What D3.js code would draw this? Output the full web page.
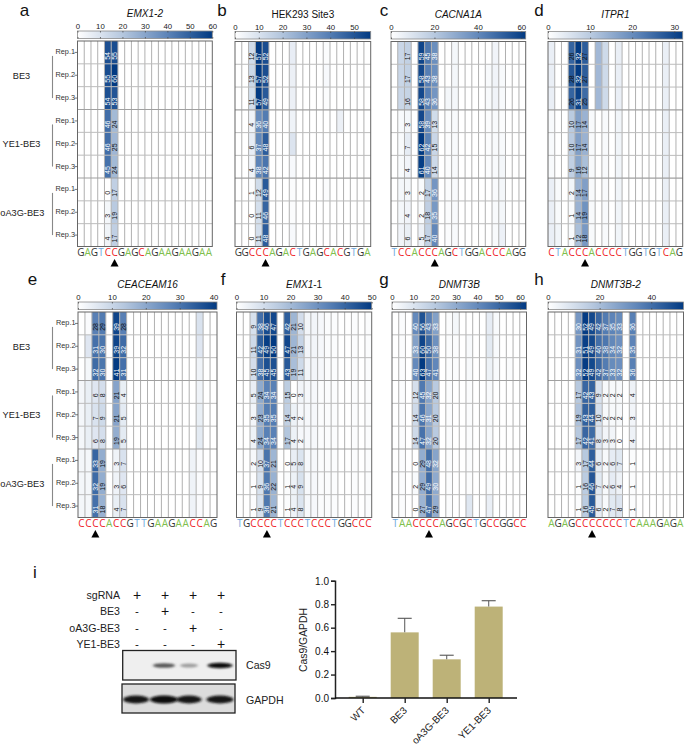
<!DOCTYPE html>
<html><head><meta charset="utf-8">
<script src="https://cdn.jsdelivr.net/npm/d3@7/dist/d3.min.js"></script>
<style>html,body{margin:0;padding:0;background:#fff}svg{display:block}text{font-family:"Liberation Sans",Arial,sans-serif}</style>
</head><body><svg id="c" width="685" height="746"></svg>
<script>
const groupNames = ["BE3","YE1-BE3","oA3G-BE3"];
const repNames = ["Rep.1","Rep.2","Rep.3"];

const seqA = "GAGTCCGAGCAGAAGAAGAA", titleA = "EMX1-2", maxA = 60, ticksA = [0,10,20,30,40,50,60], labelColsA = [4,5];
const valuesA = [
[0,0,0,0,54,55,0,0,0,0,0,0,0,0,0,0,0,0,0,0],
[0,0,0,0,55,60,0,0,0,1,0,0,0,0,0,0,0,0,0,0],
[0,0,0,0,54,53,0,0,0,1,0,0,0,0,0,0,0,0,0,0],
[0,0,0,0,46,24,0,0,0,0,0,0,0,0,0,0,0,0,0,0],
[0,0,0,0,46,25,0,0,0,0,0,0,0,0,0,0,0,0,0,0],
[0,0,0,0,45,24,0,0,0,0,0,0,0,0,0,0,0,0,0,0],
[0,0,0,0,0,17,0,0,0,1,0,0,0,0,0,0,0,0,0,0],
[0,0,0,0,3,19,0,0,0,0,0,0,0,0,0,0,0,0,0,0],
[0,0,0,0,4,17,0,0,0,0,0,0,0,0,0,0,0,0,0,0]];

const seqB = "GGCCCAGACTGAGCACGTGA", titleB = "HEK293 Site3", maxB = 57, ticksB = [0,10,20,30,40,50], labelColsB = [2,3,4];
const valuesB = [
[0,0,12,57,52,0,0,0,6,0,0,0,0,1,0,0,0,0,0,0],
[0,0,13,57,52,0,0,0,5,0,0,0,0,2,0,0,0,0,0,0],
[0,0,11,57,49,0,0,0,5,0,0,0,0,1,0,0,0,0,0,0],
[0,0,4,36,40,0,0,0,4,0,0,0,0,0,0,5,0,0,0,0],
[0,0,6,37,48,0,0,0,9,0,0,0,0,0,0,0,0,0,0,0],
[0,0,4,38,42,0,0,0,2,0,0,0,0,0,0,0,0,0,0,0],
[0,0,1,12,49,0,0,0,1,0,0,0,0,1,0,0,0,0,0,0],
[0,0,0,11,46,0,0,0,1,0,0,0,0,0,0,0,0,0,0,0],
[0,0,0,11,48,0,0,0,2,0,0,0,0,0,0,0,0,0,0,0]];

const seqC = "TCCACCCAGCTGGACCCAGG", titleC = "CACNA1A", maxC = 62, ticksC = [0,20,40,60], labelColsC = [2,4,5,6];
const valuesC = [
[0,15,17,0,59,45,38,0,0,3,0,0,0,0,0,4,0,0,0,0],
[0,15,17,0,58,43,38,0,0,3,0,0,0,0,2,4,2,0,0,0],
[0,15,16,0,58,43,36,0,3,3,0,0,0,0,2,4,2,0,0,0],
[0,2,3,0,58,39,13,0,1,2,0,0,0,0,1,2,1,0,0,0],
[0,2,7,0,62,42,15,0,1,2,0,0,0,0,1,2,2,0,0,0],
[0,2,4,0,61,40,14,0,1,2,0,0,0,0,1,2,3,0,0,0],
[0,3,3,0,2,17,36,0,1,2,0,0,0,0,0,2,3,0,0,0],
[0,3,4,0,2,18,35,0,1,2,0,0,0,0,0,2,3,0,0,0],
[0,4,6,0,5,17,40,0,1,2,0,0,0,0,0,2,5,0,0,0]];

const seqD = "CTACCCACCCCTGGTGTCAG", titleD = "ITPR1", maxD = 32, ticksD = [0,10,20,30], labelColsD = [3,4,5];
const valuesD = [
[3,0,0,26,32,27,0,13,7,0,3,0,0,0,0,0,0,3,0,0],
[3,0,0,28,32,27,0,13,7,0,3,0,0,0,0,0,0,3,0,0],
[3,0,0,26,31,25,0,13,7,0,3,0,0,0,0,0,0,3,0,0],
[1,0,0,10,17,14,1,0,1,0,2,0,0,0,0,0,0,3,0,0],
[1,0,0,10,17,14,1,0,1,0,2,0,0,0,0,0,0,3,0,0],
[1,0,0,9,16,12,1,0,1,0,2,0,0,0,0,0,0,3,0,0],
[3,1,0,2,14,17,1,0,1,0,2,0,0,0,0,0,0,3,0,0],
[3,1,0,1,14,19,1,0,1,0,2,0,0,0,0,0,0,3,0,0],
[3,2,0,1,12,18,1,0,1,0,2,0,0,0,0,0,0,3,0,0]];

const seqE = "CCCCACCGTTGAAGAACCAG", titleE = "CEACEAM16", maxE = 41, ticksE = [0,10,20,30,40], labelColsE = [2,3,5,6];
const valuesE = [
[0,1,28,29,0,39,28,0,0,0,0,0,0,0,0,0,0,7,0,0],
[0,6,31,30,0,39,32,0,0,0,0,0,0,0,0,0,0,6,0,0],
[0,2,32,30,0,41,31,0,0,0,0,0,0,0,0,0,0,3,0,0],
[2,4,6,8,0,21,4,0,0,0,0,0,0,0,0,0,0,3,0,0],
[2,4,7,9,0,21,5,0,0,0,0,0,0,0,0,0,0,4,0,0],
[2,4,6,8,0,19,5,0,0,0,0,0,0,0,0,0,0,5,0,0],
[2,2,33,19,0,3,7,0,0,0,0,0,0,0,0,0,3,1,0,0],
[2,2,32,19,0,3,6,0,0,0,0,0,0,0,0,0,3,1,0,0],
[2,2,31,18,0,4,7,0,0,0,0,0,0,0,0,0,3,1,0,0]];

const seqF = "TGCCCCTCCCTCCCTGGCCC", titleF = "EMX1", titleSuffixF = "-1", maxF = 50, ticksF = [0,10,20,30,40,50], labelColsF = [2,3,4,5,7,8,9];
const valuesF = [
[0,0,9,38,46,47,0,42,21,10,3,3,2,1,1,0,0,1,0,1],
[0,0,11,42,49,50,0,47,21,13,3,3,2,1,1,0,0,1,0,1],
[0,0,10,38,45,45,0,43,19,11,3,3,2,1,1,0,0,1,0,1],
[0,0,5,24,34,34,0,15,0,3,2,2,1,1,1,0,0,1,0,1],
[0,0,3,23,35,35,0,14,4,2,2,2,1,1,1,0,0,1,0,1],
[0,0,4,24,34,34,0,17,4,2,2,2,1,1,1,0,0,1,0,1],
[0,0,2,10,37,21,0,0,5,8,2,2,1,1,1,0,0,1,0,1],
[0,0,1,9,36,22,0,1,4,9,2,2,1,1,1,0,0,1,0,1],
[0,0,1,9,36,21,0,1,4,8,2,2,1,1,1,0,0,1,0,1]];

const seqG = "TAACCCCAGCGCTGCCGGCC", titleG = "DNMT3B", maxG = 63, ticksG = [0,10,20,30,40,50,60], labelColsG = [3,4,5,6];
const valuesG = [
[0,1,0,40,56,43,33,0,1,3,0,0,0,0,7,2,0,0,0,0],
[0,1,0,33,60,50,38,0,1,1,0,2,0,0,8,2,0,0,0,0],
[0,1,0,40,63,47,41,0,1,1,0,2,0,0,5,2,0,1,0,0],
[0,1,0,12,45,32,20,0,1,0,0,1,0,0,2,0,0,0,0,0],
[0,1,0,14,46,31,20,0,1,0,0,1,0,0,2,0,0,0,0,0],
[0,1,0,14,47,32,20,0,1,0,0,1,0,0,2,0,0,0,0,0],
[0,1,0,0,29,48,32,0,1,0,0,1,0,0,2,0,0,0,0,0],
[0,1,0,2,29,49,30,0,1,0,0,1,0,0,2,0,0,0,0,0],
[0,1,0,0,27,47,29,0,1,0,0,9,0,0,6,0,0,0,0,0]];

const seqH = "AGAGCCCCCCCTCAAAGAGA", titleH = "DNMT3B-2", maxH = 52.5, ticksH = [0,20,40], labelColsH = [4,5,6,7,8,9,10,12];
const valuesH = [
[0,0,0,0,30,52,49,42,37,35,33,0,36,0,0,0,0,0,0,0],
[0,0,0,0,31,51,49,40,38,34,32,0,35,0,0,0,0,0,0,0],
[0,0,0,0,32,52,49,42,37,33,32,0,36,0,0,0,0,0,0,0],
[0,0,0,0,17,42,43,9,2,2,2,0,4,0,0,0,0,0,0,0],
[0,0,0,0,19,43,44,10,2,2,2,0,3,0,0,0,0,0,0,0],
[0,0,0,0,17,42,41,8,3,3,0,0,4,0,0,0,0,0,0,0],
[0,0,0,0,3,17,44,6,2,6,7,0,1,0,0,0,0,0,0,0],
[0,0,0,0,1,16,46,7,2,6,4,0,1,0,0,0,0,0,0,0],
[0,0,0,0,1,16,45,6,2,7,8,0,1,0,0,0,0,0,0,0]];

const arrowColA=5, arrowColB=4, arrowColC=6, arrowColD=5, arrowColE=2, arrowColF=4, arrowColG=5, arrowColH=6;

const barNames = ["WT","BE3","oA3G-BE3","YE1-BE3"];
const barValues = [0.01,0.56,0.33,0.78];
const barErrTops = [0.015,0.68,0.365,0.83];
const barTicks = [0,0.2,0.4,0.6,0.8,1.0];

const blotRows = ["sgRNA","BE3","oA3G-BE3","YE1-BE3"];
const blotSigns = [["+","+","+","+"],["-","+","-","-"],["-","-","+","-"],["-","-","-","+"]];
const cas9Bands = [0,0.62,0.28,1];
const gapdhBands = [0.95,1,0.95,0.95];

const svg = d3.select("#c");
const defs = svg.append("defs");
const stops = ["#ffffff","#b5c7de","#5d84b8","#023a82"];
const baseColors = {A:"#7fbf4d",C:"#ee1c25",G:"#333333",T:"#6fa8dc"};

const panelList = [
 {id:"a",seq:seqA,title:titleA,max:maxA,ticks:ticksA,cols:labelColsA,vals:valuesA,arrow:arrowColA,x0:77.5,x1:212.3,y0:41,y1:246.5,ital:true,lx:24.5,ly:15.5,row:true},
 {id:"b",seq:seqB,title:titleB,max:maxB,ticks:ticksB,cols:labelColsB,vals:valuesB,arrow:arrowColB,x0:235,x1:370.7,y0:41.5,y1:246.5,ital:false,lx:222,ly:15.5},
 {id:"c",seq:seqC,title:titleC,max:maxC,ticks:ticksC,cols:labelColsC,vals:valuesC,arrow:arrowColC,x0:391,x1:525.7,y0:41.5,y1:246.5,ital:true,lx:384,ly:15.5},
 {id:"d",seq:seqD,title:titleD,max:maxD,ticks:ticksD,cols:labelColsD,vals:valuesD,arrow:arrowColD,x0:548,x1:682.7,y0:41.5,y1:246.5,ital:true,lx:539,ly:15.5},
 {id:"e",seq:seqE,title:titleE,max:maxE,ticks:ticksE,cols:labelColsE,vals:valuesE,arrow:arrowColE,x0:78,x1:217,y0:312,y1:517.5,ital:true,lx:32.5,ly:285,row:true},
 {id:"f",seq:seqF,title:titleF,suffix:titleSuffixF,max:maxF,ticks:ticksF,cols:labelColsF,vals:valuesF,arrow:arrowColF,x0:236.5,x1:371.7,y0:312,y1:517.5,ital:true,lx:223,ly:285},
 {id:"g",seq:seqG,title:titleG,max:maxG,ticks:ticksG,cols:labelColsG,vals:valuesG,arrow:arrowColG,x0:392,x1:526.5,y0:312,y1:517.5,ital:true,lx:384,ly:285},
 {id:"h",seq:seqH,title:titleH,max:maxH,ticks:ticksH,cols:labelColsH,vals:valuesH,arrow:arrowColH,x0:548,x1:683.5,y0:312,y1:517.5,ital:true,lx:539,ly:285}
];

panelList.forEach((p,pi)=>{
  const g = svg.append("g");
  const x = d3.scaleBand().domain(d3.range(20)).range([p.x0,p.x1]);
  const y = d3.scaleBand().domain(d3.range(9)).range([p.y0,p.y1]);
  const color = d3.scaleLinear().domain([0,p.max/3,2*p.max/3,p.max]).range(stops);

  g.append("text").attr("x",p.lx).attr("y",p.ly).attr("text-anchor","middle")
   .attr("font-size",17).attr("fill","#111").text(p.id);

  const t = g.append("text").attr("x",(p.x0+p.x1)/2).attr("y",p.y0-24).attr("text-anchor","middle")
   .attr("font-size",10).attr("fill","#111");
  t.append("tspan").attr("font-style",p.ital?"italic":"normal").text(p.title);
  if(p.suffix) t.append("tspan").text(p.suffix);

  // colour bar
  const gid="grad"+pi;
  const lg=defs.append("linearGradient").attr("id",gid);
  stops.forEach((s,i)=>lg.append("stop").attr("offset",(i/3*100)+"%").attr("stop-color",s));
  const barY=p.y0-10, barH=7.5;
  g.append("rect").attr("x",p.x0).attr("y",barY).attr("width",p.x1-p.x0).attr("height",barH)
   .attr("fill","url(#"+gid+")").attr("stroke","#8a8a8a").attr("stroke-width",0.8);
  const bs=d3.scaleLinear().domain([0,p.max]).range([p.x0,p.x1]);
  const ax=g.append("g").attr("transform","translate(0,"+barY+")")
    .call(d3.axisTop(bs).tickValues(p.ticks).tickSize(-barH).tickPadding(2).tickFormat(d3.format("d")));
  ax.select(".domain").remove();
  ax.selectAll("line").attr("stroke","#444").attr("stroke-width",0.7).attr("stroke-dasharray","1.5 4.5 1.5");
  ax.selectAll("text").attr("font-size",7.8).attr("fill","#222");

  // cells
  const cells=[];
  p.vals.forEach((row,r)=>row.forEach((v,c)=>cells.push({r,c,v})));
  g.append("g").selectAll("rect").data(cells.filter(d=>d.v>0)).join("rect")
    .attr("x",d=>x(d.c)).attr("y",d=>y(d.r)).attr("width",x.bandwidth()).attr("height",y.bandwidth())
    .attr("fill",d=>color(d.v));
  // grid
  const gl=g.append("g").attr("stroke","#b0b0b0").attr("stroke-width",1);
  d3.range(1,20).forEach(i=>gl.append("line").attr("x1",x(i)).attr("x2",x(i)).attr("y1",p.y0).attr("y2",p.y1));
  d3.range(1,9).forEach(i=>gl.append("line").attr("y1",y(i)).attr("y2",y(i)).attr("x1",p.x0).attr("x2",p.x1)
     .attr("stroke",i%3==0?"#a0a0a0":"#bcbcbc").attr("stroke-width",i%3==0?1.2:1));
  g.append("rect").attr("x",p.x0).attr("y",p.y0).attr("width",p.x1-p.x0).attr("height",p.y1-p.y0)
    .attr("fill","none").attr("stroke","#666").attr("stroke-width",1);
  // labels
  g.append("g").selectAll("text").data(cells.filter(d=>p.cols.includes(d.c))).join("text")
    .attr("transform",d=>`translate(${x(d.c)+x.bandwidth()/2+2.4},${y(d.r)+y.bandwidth()/2+3.5}) rotate(-90)`)
    .attr("text-anchor","middle").attr("font-size",7)
    .attr("fill",d=>d.v>=30?"#fff":"#111").text(d=>d.v);
  // sequence
  g.append("g").selectAll("text").data(p.seq.split("")).join("text")
    .attr("x",(d,i)=>x(i)+x.bandwidth()/2).attr("y",p.y1+9.5).attr("text-anchor","middle")
    .attr("font-size",10).attr("style",'font-family:"Open Sans",sans-serif').attr("fill",d=>baseColors[d]).text(d=>d);
  // arrow
  const ac=x(p.arrow)+x.bandwidth()/2;
  g.append("path").attr("d",d3.line()([[ac-4,p.y1+20],[ac+4,p.y1+20],[ac,p.y1+12.5]])+"Z").attr("fill","#000");
  // row labels
  if(p.row){
    y.domain().forEach(r=>{
      const cy=y(r)+y.bandwidth()/2;
      g.append("line").attr("x1",p.x0-3).attr("x2",p.x0).attr("y1",cy).attr("y2",cy).attr("stroke","#555").attr("stroke-width",0.8);
      g.append("text").attr("x",p.x0-2.5).attr("y",cy+2).attr("text-anchor","end").attr("font-size",7.3).attr("fill","#333").text(repNames[r%3]);
    });
    groupNames.forEach((n,i)=>{
      const ya=y(i*3)+y.bandwidth()/2+3.5, yb=y(i*3+2)+y.bandwidth()/2;
      g.append("line").attr("x1",52.5).attr("x2",52.5).attr("y1",ya).attr("y2",yb).attr("stroke","#888").attr("stroke-width",1.1);
      g.append("text").attr("x",i==2?22.3:21.5).attr("y",(ya+yb)/2+1.5).attr("text-anchor","middle").attr("font-size",9.2).attr("fill","#222").text(n);
    });
  }
});

// panel i: blot
svg.append("text").attr("x",35).attr("y",578).attr("text-anchor","middle").attr("font-size",17).attr("fill","#111").text("i");
const lane = d3.scalePoint().domain(d3.range(4)).range([137,221]);
const bandCenters = [136,164,189,220];
const cas9Widths = [0,22,18,25];
blotRows.forEach((n,r)=>{
  const yy=595+r*16.5;
  svg.append("text").attr("x",120).attr("y",yy+3.5).attr("text-anchor","end").attr("font-size",10.6).attr("fill","#222").text(n);
  blotSigns[r].forEach((s,c)=>svg.append("text").attr("x",lane(c)).attr("y",yy+(s=="+"?4.8:3.7))
    .attr("text-anchor","middle").attr("font-size",s=="+"?14:11.5).attr("fill","#111").text(s));
});
const blur=defs.append("filter").attr("id","blur").attr("x","-40%").attr("y","-100%").attr("width","180%").attr("height","300%");
blur.append("feGaussianBlur").attr("stdDeviation","1.6 1");
const bandScale=d3.scaleLinear().domain([0,1]).range(["#d8d8d8","#0a0a0a"]);
function blot(x0,x1,y0,y1,bg,bands,cy,w,h){
  svg.append("rect").attr("x",x0).attr("y",y0).attr("width",x1-x0).attr("height",y1-y0).attr("fill",bg);
  bands.forEach((b,i)=>{ if(b>0) svg.append("ellipse").attr("cx",bandCenters[i]).attr("cy",cy)
    .attr("rx",w[i]/2).attr("ry",h*(0.6+0.4*b)).attr("fill",bandScale(b)).attr("filter","url(#blur)"); });
  svg.append("rect").attr("x",x0).attr("y",y0).attr("width",x1-x0).attr("height",y1-y0).attr("fill","none").attr("stroke","#222").attr("stroke-width",1.3);
}
blot(122.7,236,650.5,680,"#efefef",cas9Bands,665.5,cas9Widths,2.8);
blot(122,235,684,713,"#dcdcdc",gapdhBands,699.5,[26,28,25,27],4);
svg.append("text").attr("x",246).attr("y",668.5).attr("font-size",10.6).attr("fill","#222").text("Cas9");
svg.append("text").attr("x",246).attr("y",703.5).attr("font-size",10.6).attr("fill","#222").text("GAPDH");

// panel i: bars
const yb=d3.scaleLinear().domain([0,1]).range([698,580.8]);
const xb=d3.scalePoint().domain(barNames).range([362.7,488.7]);
const barW=28;
const bg=svg.append("g");
bg.selectAll("rect").data(barNames).join("rect")
  .attr("x",d=>xb(d)-barW/2).attr("width",barW)
  .attr("y",(d,i)=>yb(barValues[i])).attr("height",(d,i)=>yb(0)-yb(barValues[i]))
  .attr("fill","#bdb278");
barNames.forEach((n,i)=>{
  const cx=xb(n);
  bg.append("line").attr("x1",cx).attr("x2",cx).attr("y1",yb(barValues[i])).attr("y2",yb(barErrTops[i])).attr("stroke","#666").attr("stroke-width",1.1);
  bg.append("line").attr("x1",cx-7).attr("x2",cx+7).attr("y1",yb(barErrTops[i])).attr("y2",yb(barErrTops[i])).attr("stroke","#555").attr("stroke-width",1.1);
});
const ay=bg.append("g").attr("transform","translate(335,0)").call(d3.axisLeft(yb).tickValues(barTicks).tickFormat(d3.format(".1f")).tickSize(4).tickPadding(2));
ay.select(".domain").attr("stroke","#222").attr("stroke-width",1.5);
ay.selectAll("line").attr("stroke","#222").attr("stroke-width",1.4);
ay.selectAll("text").attr("font-size",10).attr("fill","#111");
const axb=bg.append("g").attr("transform","translate(0,698)").call(d3.axisBottom(xb).tickSize(5).tickSizeOuter(0).tickFormat(""));
axb.select(".domain").attr("d","M335,0H517").attr("stroke","#111").attr("stroke-width",1.4);
axb.selectAll("line").attr("stroke","#222").attr("stroke-width",1.4);
barNames.forEach(n=>bg.append("text").attr("transform",`translate(${xb(n)+3},${698+13}) rotate(-45)`)
  .attr("text-anchor","end").attr("font-size",10).attr("fill","#222").text(n));
bg.append("text").attr("transform","translate(307,640) rotate(-90)").attr("text-anchor","middle").attr("font-size",10.4).attr("fill","#222").text("Cas9/GAPDH");
</script></body></html>
